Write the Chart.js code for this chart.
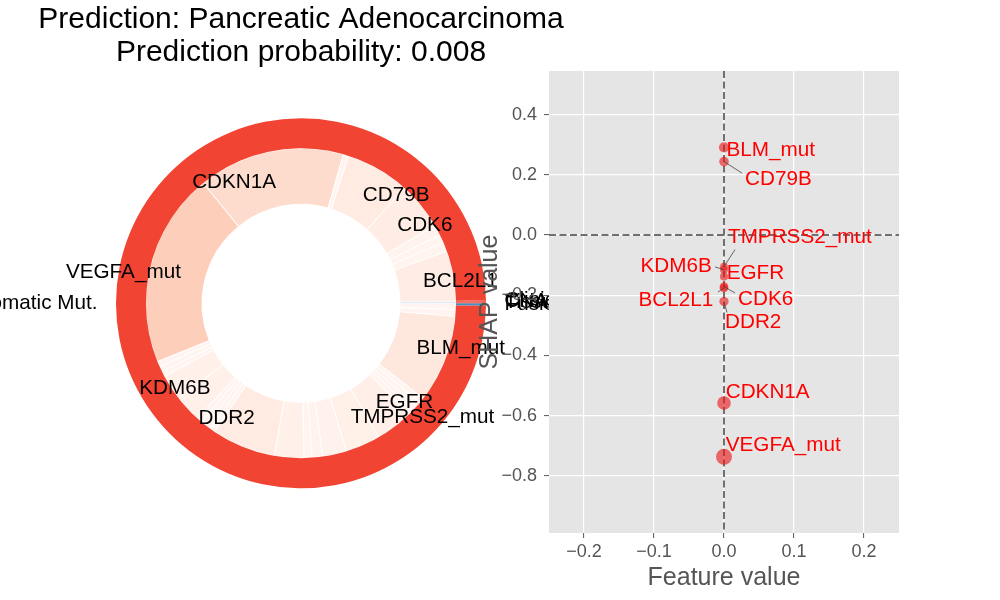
<!DOCTYPE html>
<html>
<head>
<meta charset="utf-8">
<title>Prediction: Pancreatic Adenocarcinoma</title>
<script src="https://cdn.jsdelivr.net/npm/chart.js@4.4.1/dist/chart.umd.min.js"></script>
<style>
  html, body { margin:0; padding:0; background:#ffffff; }
  #stage { position:relative; width:1000px; height:600px; overflow:hidden; }
  #donut { position:absolute; left:0; top:0; }
  #scatter { position:absolute; left:0; top:0; }
</style>
</head>
<body>
<div id="stage">
  <canvas id="donut" width="602" height="533"></canvas>
  <canvas id="scatter" width="1000" height="600"></canvas>
</div>
<script>
// ---------------- data ----------------
const titleLines = ['Prediction: Pancreatic Adenocarcinoma', 'Prediction probability: 0.008'];

// outer ring: feature groups, counter-clockwise from 3 o'clock
const groupNames  = ['Tissue', 'CNA', 'Clinical', 'Somatic Mut.', 'Fusion'];
const groupValues = [0.003, 0.003, 0.003, 3.585, 0.008];

// inner ring: features, counter-clockwise from 3 o'clock ('' = unlabelled slice)
const featureNames  = ['', 'BCL2L1', '', '', '', 'CDK6', 'CD79B', '', 'CDKN1A', 'VEGFA_mut',
                       '', '', '', '', 'KDM6B', '', '', '', '', 'DDR2',
                       '', '', '', '', 'TMPRSS2_mut', 'EGFR', '', '', '', '', 'BLM_mut', '', ''];
const featureShares = [0.006, 0.19, 0.035, 0.03, 0.04, 0.18, 0.24, 0.02, 0.55, 0.73,
                       0.02, 0.02, 0.02, 0.10, 0.10, 0.02, 0.02, 0.02, 0.02, 0.24,
                       0.11, 0.03, 0.04, 0.09, 0.13, 0.14, 0.02, 0.02, 0.02, 0.02, 0.33, 0.025, 0.024];

// scatter: feature value vs SHAP value
const pointNames   = ['BLM_mut', 'CD79B', 'TMPRSS2_mut', 'KDM6B', 'EGFR', 'CDK6', 'BCL2L1', 'DDR2', 'CDKN1A', 'VEGFA_mut'];
const featureValue = [0, 0, 0, 0, 0, 0, 0, 0, 0, 0];
const shapValue    = [0.291, 0.244, -0.105, -0.115, -0.138, -0.171, -0.176, -0.221, -0.558, -0.737];
const xTicks = [-0.2, -0.1, 0, 0.1, 0.2];
const yTicks = [-0.8, -0.6, -0.4, -0.2, 0, 0.2, 0.4];

// ---------------- style ----------------
const FONT = '"Liberation Sans", Arial, Helvetica, sans-serif';
const LABEL_FONT = '20.7px ' + FONT;
Chart.defaults.font.family = FONT;
// annotation placement for scatter labels: [dx, dy, align, lineEndDx, lineEndDy]
const labelPlacement = [
  [2.5, 2.7, 'left'],
  [21, 17.5, 'left', 18, 11.5],
  [4, -29.7, 'left', 11, -17],
  [-12.3, -3.7, 'right', -9, -2.7],
  [2.7, -3.6, 'left'],
  [14, 12.4, 'left', 11, 6.5],
  [-10.7, 12, 'right', -6, 4],
  [1, 21, 'left', 3, 11],
  [1.7, -10.8, 'left'],
  [1.7, -11.8, 'left']
];

function redsShade(v) {
  const t = v / 4;
  const stops = [[0, [255, 245, 240]], [0.125, [254, 224, 210]], [0.25, [252, 187, 161]], [0.375, [252, 146, 114]]];
  for (let i = 0; i < stops.length - 1; i++) {
    const [t0, c0] = stops[i], [t1, c1] = stops[i + 1];
    if (t <= t1 || i === stops.length - 2) {
      const f = Math.max(0, Math.min(1, (t - t0) / (t1 - t0)));
      const c = c0.map((a, k) => Math.round(a + (c1[k] - a) * f));
      return 'rgb(' + c.join(',') + ')';
    }
  }
}
const rev = a => a.slice().reverse();

const innerColors  = featureShares.map((v, i) => i === 0 ? '#deebf7' : redsShade(v));
const innerBorders = featureShares.map((v, i) => i === 0 ? 0 : 1);
const outerColors  = groupNames.map(n => n === 'Fusion' ? '#4292c6' : '#f14432');
const outerBorders = groupNames.map(() => 0);

// ---------------- plugins ----------------
const donutLabels = {
  id: 'donutLabels',
  afterDatasetsDraw(chart) {
    const ctx = chart.ctx;
    ctx.save();
    ctx.font = LABEL_FONT;
    ctx.fillStyle = '#000000';
    ctx.textBaseline = 'middle';
    chart.data.datasets.forEach((ds, di) => {
      const meta = chart.getDatasetMeta(di);
      meta.data.forEach((arc, i) => {
        const name = ds.sliceNames[i];
        if (!name) return;
        const p = arc.getProps(['x', 'y', 'startAngle', 'endAngle', 'outerRadius'], true);
        const mid = (p.startAngle + p.endAngle) / 2;
        const r = p.outerRadius * ds.labelDistance;
        const x = p.x + r * Math.cos(mid), y = p.y + r * Math.sin(mid);
        ctx.textAlign = Math.cos(mid) > 0 ? 'left' : 'right';
        ctx.fillText(name, x, y);
      });
    });
    ctx.restore();
  }
};

const panelBackground = {
  id: 'panelBackground',
  beforeDraw(chart) {
    const a = chart.chartArea, ctx = chart.ctx;
    ctx.save();
    ctx.fillStyle = '#e5e5e5';
    ctx.fillRect(a.left, a.top, a.right - a.left, a.bottom - a.top);
    ctx.restore();
  }
};

const zeroLines = {
  id: 'zeroLines',
  beforeDatasetsDraw(chart) {
    const a = chart.chartArea, ctx = chart.ctx;
    const px = chart.scales.x.getPixelForValue(0);
    const py = chart.scales.y.getPixelForValue(0);
    ctx.save();
    ctx.strokeStyle = '#707070';
    ctx.lineWidth = 2;
    ctx.setLineDash([7, 3.5]);
    ctx.beginPath();
    ctx.moveTo(px, a.top); ctx.lineTo(px, a.bottom);
    ctx.moveTo(a.left, py); ctx.lineTo(a.right, py);
    ctx.stroke();
    ctx.restore();
  }
};

const scatterLabels = {
  id: 'scatterLabels',
  afterDatasetsDraw(chart) {
    const ctx = chart.ctx;
    const meta = chart.getDatasetMeta(0);
    ctx.save();
    ctx.font = LABEL_FONT;
    ctx.textBaseline = 'middle';
    meta.data.forEach((pt, i) => {
      const pl = labelPlacement[i];
      if (pl.length > 3) {
        ctx.strokeStyle = '#444444';
        ctx.lineWidth = 0.8;
        ctx.beginPath();
        ctx.moveTo(pt.x, pt.y);
        ctx.lineTo(pt.x + pl[3], pt.y + pl[4]);
        ctx.stroke();
      }
      ctx.fillStyle = '#ff0000';
      ctx.textAlign = pl[2];
      ctx.fillText(pointNames[i], pt.x + pl[0], pt.y + pl[1]);
    });
    ctx.restore();
  }
};

const fmt = v => Math.abs(v) < 1e-9 ? '0.0' : v.toFixed(1).replace('-', '\u2212');

// ---------------- donut chart ----------------
new Chart(document.getElementById('donut'), {
  type: 'doughnut',
  data: {
    labels: rev(featureNames),
    datasets: [
      { data: rev(groupValues), backgroundColor: rev(outerColors), borderWidth: rev(outerBorders),
        borderColor: '#ffffff', weight: 30, sliceNames: rev(groupNames), labelDistance: 1.1 },
      { data: rev(featureShares), backgroundColor: rev(innerColors), borderWidth: rev(innerBorders),
        borderColor: '#ffffff', weight: 56, sliceNames: rev(featureNames), labelDistance: 0.8 }
    ]
  },
  options: {
    responsive: false,
    animation: false,
    rotation: 90,
    radius: 185,
    cutout: '53.5%',
    layout: { padding: 0 },
    plugins: {
      legend: { display: false },
      tooltip: { enabled: false },
      title: {
        display: true, text: titleLines, color: '#000000',
        font: { family: FONT, size: 30, weight: 'normal', lineHeight: 33 / 30 },
        padding: { top: 3.5, bottom: 4 }
      }
    }
  },
  plugins: [donutLabels]
});

// ---------------- scatter chart ----------------
new Chart(document.getElementById('scatter'), {
  type: 'scatter',
  data: {
    datasets: [{
      data: featureValue.map((x, i) => ({ x: x, y: shapValue[i] })),
      backgroundColor: 'rgba(235,25,25,0.62)',
      borderWidth: 0,
      pointRadius: shapValue.map(v => 3.2 + 6.5 * Math.abs(v)),
      pointHoverRadius: shapValue.map(v => 3.2 + 6.5 * Math.abs(v))
    }]
  },
  options: {
    responsive: false,
    animation: false,
    layout: { padding: { left: 471, right: 101, top: 71, bottom: 3 } },
    plugins: { legend: { display: false }, tooltip: { enabled: false } },
    scales: {
      x: {
        type: 'linear', min: -0.25, max: 0.25,
        afterBuildTicks: s => { s.ticks = xTicks.map(v => ({ value: v })); },
        afterFit: s => { s.height = 64; },
        grid: { color: '#ffffff', lineWidth: 1.2, drawTicks: true, tickLength: 5, tickColor: '#555555', tickWidth: 1 },
        border: { display: false },
        ticks: { color: '#555555', font: { size: 18, family: FONT }, padding: 3, autoSkip: false, maxRotation: 0, callback: v => fmt(v) },
        title: { display: true, text: 'Feature value', color: '#555555', font: { size: 25, family: FONT }, padding: { top: 4, bottom: 4 } }
      },
      y: {
        type: 'linear', min: -0.99, max: 0.545,
        afterBuildTicks: s => { s.ticks = yTicks.map(v => ({ value: v })); },
        afterFit: s => { s.width = 78; },
        grid: { color: '#ffffff', lineWidth: 1.2, drawTicks: true, tickLength: 5, tickColor: '#555555', tickWidth: 1 },
        border: { display: false },
        ticks: { color: '#555555', font: { size: 18, family: FONT }, padding: 7, autoSkip: false, callback: v => fmt(v) },
        title: { display: true, text: 'SHAP value', color: '#555555', font: { size: 25, family: FONT }, padding: { top: 4, bottom: 4 } }
      }
    }
  },
  plugins: [panelBackground, zeroLines, scatterLabels]
});
</script>
</body>
</html>
